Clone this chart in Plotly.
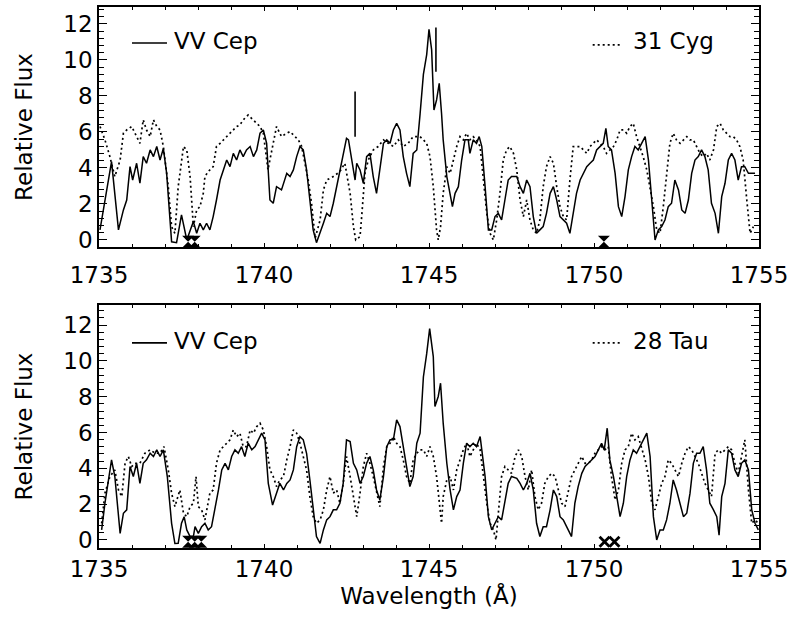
import plotly.graph_objects as go

# ---------------- data ----------------
top_vv_wl = [1735.03,1735.38,1735.59,1735.74,1735.84,1735.94,1736.02,1736.14,1736.24,1736.34,1736.44,1736.55,1736.65,1736.75,1736.85,1736.95,1737.05,1737.20,1737.35,1737.50,1737.66,1737.86,1737.96,1738.06,1738.16,1738.26,1738.36,1738.46,1738.56,1738.67,1738.77,1738.87,1738.97,1739.07,1739.17,1739.27,1739.37,1739.47,1739.58,1739.68,1739.78,1739.88,1739.98,1740.08,1740.18,1740.28,1740.38,1740.53,1740.69,1740.79,1740.89,1740.99,1741.09,1741.19,1741.29,1741.39,1741.49,1741.59,1741.70,1741.80,1741.90,1742.00,1742.10,1742.20,1742.30,1742.40,1742.50,1742.56,1742.66,1742.76,1742.81,1742.91,1743.01,1743.11,1743.21,1743.31,1743.41,1743.51,1743.62,1743.72,1743.82,1743.92,1744.02,1744.12,1744.22,1744.32,1744.42,1744.52,1744.63,1744.73,1744.83,1744.93,1745.00,1745.08,1745.15,1745.23,1745.31,1745.38,1745.43,1745.54,1745.64,1745.71,1745.79,1745.89,1745.99,1746.09,1746.19,1746.24,1746.34,1746.44,1746.52,1746.60,1746.70,1746.80,1746.90,1747.00,1747.10,1747.20,1747.30,1747.40,1747.50,1747.66,1747.76,1747.86,1747.96,1748.06,1748.16,1748.26,1748.36,1748.46,1748.56,1748.67,1748.77,1748.87,1748.97,1749.07,1749.17,1749.27,1749.37,1749.47,1749.58,1749.68,1749.78,1749.88,1749.98,1750.08,1750.18,1750.28,1750.36,1750.43,1750.53,1750.64,1750.74,1750.84,1750.94,1751.04,1751.14,1751.24,1751.34,1751.44,1751.55,1751.65,1751.75,1751.85,1751.95,1752.05,1752.15,1752.25,1752.35,1752.45,1752.56,1752.66,1752.76,1752.86,1752.96,1753.06,1753.16,1753.26,1753.36,1753.46,1753.56,1753.67,1753.77,1753.87,1753.97,1754.07,1754.17,1754.27,1754.37,1754.47,1754.57,1754.68,1754.88]
top_vv_flux = [0.56,4.35,0.56,1.67,2.22,4.07,3.33,4.26,3.15,4.63,4.26,5.0,4.63,5.19,4.44,5.09,3.70,-0.1,-0.15,1.39,0.0,1.02,0.37,0.93,0.56,0.93,0.56,1.30,2.22,3.33,3.89,4.44,4.07,4.81,4.44,5.0,4.63,5.0,5.19,4.63,5.0,5.93,6.11,5.37,2.22,2.04,2.96,2.78,3.70,3.52,3.89,4.63,5.19,5.0,3.89,2.22,0.56,-0.15,0.37,0.93,1.48,1.30,2.04,2.96,3.70,4.63,5.65,5.56,4.44,3.33,4.26,3.89,3.15,4.63,4.81,3.52,2.59,4.07,5.37,5.56,5.37,6.11,6.48,6.11,4.63,3.70,2.96,4.81,5.0,7.0,9.2,10.3,11.7,10.56,7.22,7.78,8.70,7.04,5.56,3.52,2.59,1.85,2.59,2.96,4.44,5.56,5.56,4.81,5.56,5.37,5.74,5.19,2.96,0.56,0.56,1.30,1.48,1.11,2.22,3.33,3.52,3.52,2.96,2.59,3.33,2.96,1.30,0.37,0.56,0.74,1.48,2.59,2.96,2.22,1.30,1.11,0.93,0.37,1.48,2.59,3.33,3.70,4.07,4.26,4.44,5.0,5.19,5.37,6.20,5.19,5.0,3.70,1.85,1.30,2.41,3.89,4.63,5.19,5.0,5.37,5.74,4.44,2.22,0.0,0.56,0.74,1.11,1.85,2.04,3.33,2.78,1.67,1.48,2.22,3.70,4.44,4.63,5.0,4.63,3.89,2.04,1.48,0.37,2.41,3.15,4.44,4.81,4.44,3.33,4.07,4.07,3.70,3.70]

top_cyg_wl = [1735.03,1735.18,1735.33,1735.48,1735.64,1735.74,1735.84,1735.99,1736.14,1736.24,1736.34,1736.44,1736.55,1736.65,1736.75,1736.85,1736.95,1737.10,1737.20,1737.30,1737.40,1737.56,1737.66,1737.76,1737.86,1737.96,1738.06,1738.16,1738.21,1738.31,1738.46,1738.56,1738.67,1738.77,1738.87,1738.97,1739.07,1739.17,1739.27,1739.37,1739.52,1739.68,1739.78,1739.88,1739.98,1740.12,1740.38,1740.53,1740.69,1740.79,1740.94,1741.04,1741.14,1741.34,1741.44,1741.55,1741.70,1741.80,1741.90,1742.10,1742.30,1742.45,1742.61,1742.71,1742.78,1742.91,1742.96,1743.06,1743.16,1743.31,1743.46,1743.62,1743.77,1743.92,1744.07,1744.22,1744.37,1744.52,1744.68,1744.73,1744.83,1744.93,1745.03,1745.13,1745.23,1745.28,1745.35,1745.43,1745.54,1745.64,1745.74,1745.84,1745.94,1746.04,1746.14,1746.24,1746.34,1746.44,1746.55,1746.65,1746.75,1746.85,1746.95,1747.05,1747.15,1747.25,1747.35,1747.45,1747.56,1747.66,1747.76,1747.86,1747.96,1748.06,1748.16,1748.26,1748.36,1748.46,1748.56,1748.67,1748.77,1748.87,1748.97,1749.07,1749.17,1749.27,1749.37,1749.47,1749.58,1749.68,1749.78,1749.88,1749.98,1750.08,1750.18,1750.28,1750.38,1750.48,1750.59,1750.69,1750.79,1750.89,1750.99,1751.09,1751.19,1751.29,1751.39,1751.49,1751.60,1751.70,1751.80,1751.90,1752.00,1752.10,1752.20,1752.30,1752.40,1752.50,1752.61,1752.71,1752.81,1752.91,1753.01,1753.11,1753.21,1753.31,1753.41,1753.51,1753.62,1753.72,1753.82,1753.92,1754.02,1754.12,1754.22,1754.32,1754.42,1754.52,1754.63,1754.73,1754.83]
top_cyg_flux = [6.30,5.56,4.63,3.52,4.44,5.93,6.11,6.30,5.74,5.37,6.67,6.11,5.74,6.67,6.30,6.11,5.19,2.96,0.74,0.37,2.96,5.19,5.0,3.52,0.74,1.67,1.85,2.59,3.52,3.80,4.07,5.19,5.37,5.56,5.74,5.93,6.11,6.30,6.39,6.67,6.94,6.67,6.48,6.30,5.93,3.90,6.30,5.74,5.93,6.02,5.74,5.56,5.20,3.33,2.04,0.10,1.11,2.78,3.33,3.52,3.80,4.26,2.59,0.74,0.0,0.19,1.30,3.70,4.44,5.0,5.19,5.56,5.37,5.19,5.56,5.19,5.37,5.74,5.74,5.74,5.56,5.37,4.63,2.96,0.56,0.0,0.74,2.59,4.07,3.70,4.44,5.19,5.74,5.56,5.93,5.56,5.74,5.56,5.19,3.33,1.48,0.37,0.0,1.11,2.59,4.44,5.0,5.19,4.81,3.89,2.22,1.30,2.22,1.11,0.56,0.37,1.11,2.96,4.07,4.63,4.26,2.96,1.85,1.30,1.11,3.33,5.19,5.19,5.19,5.0,4.81,5.19,5.37,5.56,5.37,5.19,4.81,5.0,5.19,5.56,6.11,6.11,5.93,6.30,6.48,5.74,5.19,4.63,3.89,2.96,1.85,0.56,0.37,1.85,3.70,5.37,5.93,5.56,5.37,5.56,5.74,5.56,5.56,5.19,4.81,4.63,4.81,4.44,5.0,6.30,6.48,6.11,5.93,5.74,5.74,5.56,5.19,4.44,2.22,0.37,0.74]

bot_vv_wl = [1735.08,1735.18,1735.38,1735.48,1735.64,1735.74,1735.84,1735.94,1736.04,1736.14,1736.24,1736.34,1736.44,1736.55,1736.65,1736.75,1736.85,1736.95,1737.07,1737.20,1737.30,1737.40,1737.50,1737.58,1737.66,1737.76,1737.86,1737.91,1738.01,1738.11,1738.21,1738.31,1738.41,1738.51,1738.62,1738.72,1738.82,1738.92,1739.02,1739.12,1739.22,1739.32,1739.42,1739.52,1739.63,1739.73,1739.83,1739.93,1740.03,1740.13,1740.26,1740.38,1740.48,1740.59,1740.69,1740.79,1740.89,1740.99,1741.09,1741.19,1741.29,1741.39,1741.49,1741.59,1741.70,1741.80,1741.90,1742.00,1742.10,1742.20,1742.30,1742.40,1742.50,1742.61,1742.71,1742.81,1742.91,1743.01,1743.11,1743.21,1743.31,1743.41,1743.51,1743.62,1743.72,1743.82,1743.92,1744.02,1744.12,1744.22,1744.32,1744.42,1744.52,1744.63,1744.73,1744.83,1744.93,1745.02,1745.13,1745.18,1745.28,1745.35,1745.43,1745.54,1745.64,1745.74,1745.84,1745.94,1746.04,1746.14,1746.24,1746.34,1746.44,1746.55,1746.60,1746.70,1746.80,1746.90,1747.00,1747.10,1747.20,1747.30,1747.40,1747.50,1747.66,1747.76,1747.86,1747.96,1748.06,1748.16,1748.26,1748.36,1748.46,1748.56,1748.67,1748.77,1748.87,1748.97,1749.07,1749.17,1749.32,1749.42,1749.52,1749.63,1749.73,1749.83,1749.93,1750.03,1750.13,1750.23,1750.31,1750.40,1750.48,1750.59,1750.69,1750.79,1750.89,1750.99,1751.09,1751.19,1751.29,1751.39,1751.49,1751.60,1751.70,1751.80,1751.90,1752.00,1752.10,1752.20,1752.30,1752.40,1752.50,1752.61,1752.71,1752.81,1752.91,1753.01,1753.11,1753.21,1753.31,1753.41,1753.51,1753.62,1753.72,1753.79,1753.87,1753.97,1754.07,1754.17,1754.27,1754.37,1754.47,1754.57,1754.68,1754.78,1754.88,1754.98]
bot_vv_flux = [0.56,2.05,4.47,3.54,0.37,1.49,1.68,4.10,3.54,4.28,3.16,4.28,4.47,4.84,4.66,5.03,4.66,5.03,3.54,0.93,-0.2,-0.19,0.93,1.30,0.56,0.19,0.19,0.74,0.37,0.74,0.93,0.56,0.74,1.68,2.79,3.91,4.28,3.91,4.66,5.03,4.84,5.21,4.66,5.40,5.03,5.21,5.59,5.96,5.59,3.16,1.95,2.61,3.16,2.79,3.16,3.35,3.91,5.21,5.77,5.59,4.84,3.35,1.86,0.19,-0.19,0.56,1.12,1.30,1.68,1.68,2.05,3.16,5.59,5.49,4.28,3.91,3.16,3.54,4.28,4.66,3.91,2.79,2.23,3.54,5.21,5.59,5.59,6.70,6.33,5.21,4.10,2.98,3.54,5.40,5.96,9.1,10.4,11.8,10.24,7.45,8.01,8.75,6.52,4.28,2.79,1.68,2.42,2.79,4.28,5.40,5.21,5.40,5.21,5.77,5.03,3.54,1.30,0.56,0.93,1.30,1.12,2.05,3.16,3.54,3.44,3.16,2.79,3.16,3.72,2.79,0.93,0.19,0.74,0.74,1.68,2.79,2.42,1.30,1.12,0.74,0.19,2.05,2.98,3.72,4.10,4.28,4.47,4.66,5.03,5.40,5.03,6.24,4.47,3.54,2.42,1.30,2.05,3.54,4.47,5.03,4.84,5.21,5.59,5.96,4.66,1.30,0.0,0.56,0.56,1.12,2.05,3.35,2.79,2.05,1.30,1.49,2.61,4.28,4.84,4.84,5.21,3.91,2.05,1.68,1.30,0.27,2.42,3.16,5.03,4.84,3.91,3.54,4.28,4.47,3.91,1.68,0.93,0.56]

bot_tau_wl = [1735.08,1735.18,1735.33,1735.48,1735.59,1735.69,1735.79,1735.89,1735.99,1736.09,1736.24,1736.39,1736.55,1736.70,1736.85,1736.97,1737.10,1737.20,1737.30,1737.45,1737.56,1737.66,1737.76,1737.86,1737.94,1738.01,1738.11,1738.21,1738.36,1738.46,1738.56,1738.67,1738.77,1738.87,1738.97,1739.07,1739.17,1739.27,1739.37,1739.47,1739.58,1739.68,1739.78,1739.88,1739.98,1740.08,1740.18,1740.28,1740.38,1740.48,1740.59,1740.69,1740.79,1740.89,1740.99,1741.09,1741.19,1741.29,1741.39,1741.49,1741.59,1741.70,1741.80,1741.90,1742.00,1742.10,1742.20,1742.30,1742.40,1742.50,1742.61,1742.71,1742.81,1742.91,1743.01,1743.11,1743.21,1743.31,1743.41,1743.51,1743.62,1743.72,1743.82,1743.92,1744.02,1744.12,1744.22,1744.32,1744.42,1744.52,1744.63,1744.73,1744.83,1744.93,1745.03,1745.13,1745.23,1745.33,1745.38,1745.43,1745.54,1745.64,1745.74,1745.84,1745.94,1746.04,1746.14,1746.24,1746.34,1746.44,1746.55,1746.65,1746.75,1746.85,1746.95,1747.03,1747.10,1747.20,1747.30,1747.40,1747.50,1747.61,1747.71,1747.81,1747.91,1748.01,1748.11,1748.21,1748.31,1748.41,1748.51,1748.62,1748.72,1748.82,1748.92,1749.02,1749.12,1749.22,1749.32,1749.42,1749.52,1749.63,1749.73,1749.83,1749.93,1750.03,1750.13,1750.23,1750.33,1750.43,1750.53,1750.64,1750.74,1750.84,1750.94,1751.04,1751.14,1751.24,1751.34,1751.44,1751.55,1751.65,1751.75,1751.85,1751.95,1752.05,1752.15,1752.25,1752.35,1752.45,1752.56,1752.66,1752.76,1752.86,1752.96,1753.06,1753.16,1753.26,1753.36,1753.46,1753.56,1753.67,1753.77,1753.87,1753.97,1754.07,1754.17,1754.27,1754.37,1754.47,1754.57,1754.68,1754.78,1754.88,1754.98]
bot_tau_flux = [0.93,2.61,3.54,3.91,2.79,2.42,4.28,4.66,4.10,4.28,4.28,4.84,5.03,4.84,4.84,5.21,3.91,2.61,1.86,2.79,1.49,1.30,1.86,2.05,3.54,1.86,1.68,1.12,2.61,2.79,4.28,5.03,5.21,5.40,5.59,6.14,5.77,5.96,5.21,5.21,6.14,5.96,6.33,6.52,6.14,5.21,3.91,3.54,2.98,3.35,3.54,4.47,5.21,6.14,5.96,5.40,4.66,3.91,2.42,1.30,0.93,1.12,1.68,2.79,3.54,2.61,2.79,2.05,3.16,4.66,3.54,2.42,1.30,2.61,4.10,4.84,4.28,3.54,2.61,1.86,4.10,5.21,5.40,5.77,5.40,5.21,4.47,3.54,3.16,4.47,4.84,5.03,5.03,4.66,5.21,4.66,3.54,1.68,0.93,2.42,3.35,3.54,2.79,3.91,4.47,5.03,5.40,4.66,5.03,5.40,5.03,3.54,2.05,0.93,0.56,0.0,1.30,3.54,4.10,3.91,3.72,4.66,5.03,4.66,3.54,2.79,3.91,2.42,1.68,2.05,3.16,3.54,3.72,3.54,2.79,2.05,1.86,2.79,3.54,3.91,4.28,4.66,4.28,4.28,4.47,4.84,5.03,5.21,5.03,5.21,3.54,2.23,2.79,4.28,5.03,5.21,5.96,5.59,5.77,5.21,4.47,3.54,2.05,1.68,2.42,3.16,3.54,4.47,4.28,3.91,3.54,4.28,4.84,5.21,5.03,4.66,4.28,3.72,3.16,2.79,2.42,4.84,5.03,4.84,5.03,5.21,5.03,4.28,3.72,4.66,5.59,2.79,0.93,1.12,0.93]

# vertical line marks in the upper panel (wavelength, flux bottom, flux top)
mark_wl = [1742.76, 1745.21]
mark_lo = [5.74, 9.35]
mark_hi = [8.24, 11.8]

# filled hourglass markers along the baseline
top_sym_wl = [1737.70, 1737.90, 1750.30]
bot_sym_wl = [1737.70, 1737.90, 1738.10]
bot_x_wl = [1750.32, 1750.62]
sym_flux = -0.1

labels = ["VV Cep", "31 Cyg", "28 Tau"]
xticks = [1735, 1740, 1745, 1750, 1755]
yticks = [0, 2, 4, 6, 8, 10, 12]

for a, b in [(top_vv_wl, top_vv_flux), (top_cyg_wl, top_cyg_flux),
             (bot_vv_wl, bot_vv_flux), (bot_tau_wl, bot_tau_flux)]:
    assert len(a) == len(b), (len(a), len(b))

FONT = "DejaVu Sans"
DOT = "2px,3px"

fig = go.Figure()
fig.add_trace(go.Scatter(x=top_vv_wl, y=top_vv_flux, mode="lines",
                         line=dict(color="black", width=1.5), xaxis="x", yaxis="y"))
fig.add_trace(go.Scatter(x=top_cyg_wl, y=top_cyg_flux, mode="lines",
                         line=dict(color="black", width=1.7, dash=DOT), xaxis="x", yaxis="y"))
mx, my = [], []
for w, lo, hi in zip(mark_wl, mark_lo, mark_hi):
    mx += [w, w, None]
    my += [lo, hi, None]
fig.add_trace(go.Scatter(x=mx, y=my, mode="lines", line=dict(color="black", width=1.6),
                         xaxis="x", yaxis="y"))
fig.add_trace(go.Scatter(x=top_sym_wl, y=[sym_flux] * len(top_sym_wl), mode="markers",
                         marker=dict(symbol="hourglass", size=12, color="black"),
                         cliponaxis=False, xaxis="x", yaxis="y"))

fig.add_trace(go.Scatter(x=bot_vv_wl, y=bot_vv_flux, mode="lines",
                         line=dict(color="black", width=1.5), xaxis="x2", yaxis="y2"))
fig.add_trace(go.Scatter(x=bot_tau_wl, y=bot_tau_flux, mode="lines",
                         line=dict(color="black", width=1.7, dash=DOT), xaxis="x2", yaxis="y2"))
fig.add_trace(go.Scatter(x=bot_sym_wl, y=[sym_flux] * len(bot_sym_wl), mode="markers",
                         marker=dict(symbol="hourglass", size=12, color="black"),
                         cliponaxis=False, xaxis="x2", yaxis="y2"))
fig.add_trace(go.Scatter(x=bot_x_wl, y=[sym_flux] * len(bot_x_wl), mode="markers",
                         marker=dict(symbol="x-thin", size=10, color="black",
                                     line=dict(width=2.8, color="black")),
                         cliponaxis=False, xaxis="x2", yaxis="y2"))

common_x = dict(range=[1735, 1755], tickvals=xticks, ticks="inside", ticklen=4,
                tickwidth=1.2, tickcolor="black", showline=True, linecolor="black",
                linewidth=1.6, mirror="allticks", showgrid=False, zeroline=False,
                tickfont=dict(family=FONT, size=23, color="black"),
                minor=dict(dtick=1, ticks="inside", ticklen=3, tickwidth=1, tickcolor="black",
                           showgrid=False))
common_y = dict(tickvals=yticks, ticks="inside", ticklen=8, tickwidth=1.2,
                tickcolor="black", showline=True, linecolor="black", linewidth=1.6,
                mirror="allticks", showgrid=False, zeroline=False,
                tickfont=dict(family=FONT, size=23, color="black"),
                minor=dict(dtick=0.4, tick0=0, ticks="inside", ticklen=5, tickwidth=1,
                           tickcolor="black", showgrid=False),
                title=dict(text="Relative Flux", font=dict(family=FONT, size=23, color="black"),
                           standoff=24))

fig.update_layout(
    width=795, height=633, showlegend=False,
    paper_bgcolor="white", plot_bgcolor="white",
    margin=dict(l=99, r=36, t=7, b=85, autoexpand=False),
    xaxis=dict(common_x, domain=[0, 1], anchor="y", ticklabelstandoff=7),
    yaxis=dict(common_y, domain=[0.5564, 1], range=[-0.39, 12.94], anchor="x"),
    xaxis2=dict(common_x, domain=[0, 1], anchor="y2", ticklabelstandoff=0,
                title=dict(text="Wavelength (Å)", font=dict(family=FONT, size=23, color="black"),
                           standoff=4)),
    yaxis2=dict(common_y, domain=[0, 0.4492], range=[-0.45, 13.12], anchor="x2"),
)

# legends drawn inside each panel
shapes = []
annots = []
for yref, xref, yline, ytext, yline2, name2 in [("y domain", "x domain", 0.85, 0.858, 0.842, labels[1]),
                                                 ("y2 domain", "x2 domain", 0.844, 0.852, 0.844, labels[2])]:
    shapes.append(dict(type="line", xref=xref, yref=yref, x0=0.05, x1=0.103, y0=yline, y1=yline,
                       line=dict(color="black", width=1.6)))
    shapes.append(dict(type="line", xref=xref, yref=yref, x0=0.748, x1=0.79, y0=yline2, y1=yline2,
                       line=dict(color="black", width=1.6, dash=DOT)))
    annots.append(dict(xref=xref, yref=yref, x=0.11, y=ytext, text=labels[0], showarrow=False,
                       xanchor="left", yanchor="middle",
                       font=dict(family=FONT, size=23, color="black")))
    annots.append(dict(xref=xref, yref=yref, x=0.806, y=ytext, text=name2, showarrow=False,
                       xanchor="left", yanchor="middle",
                       font=dict(family=FONT, size=23, color="black")))
fig.update_layout(shapes=shapes, annotations=annots)

fig.write_html("out.html")
